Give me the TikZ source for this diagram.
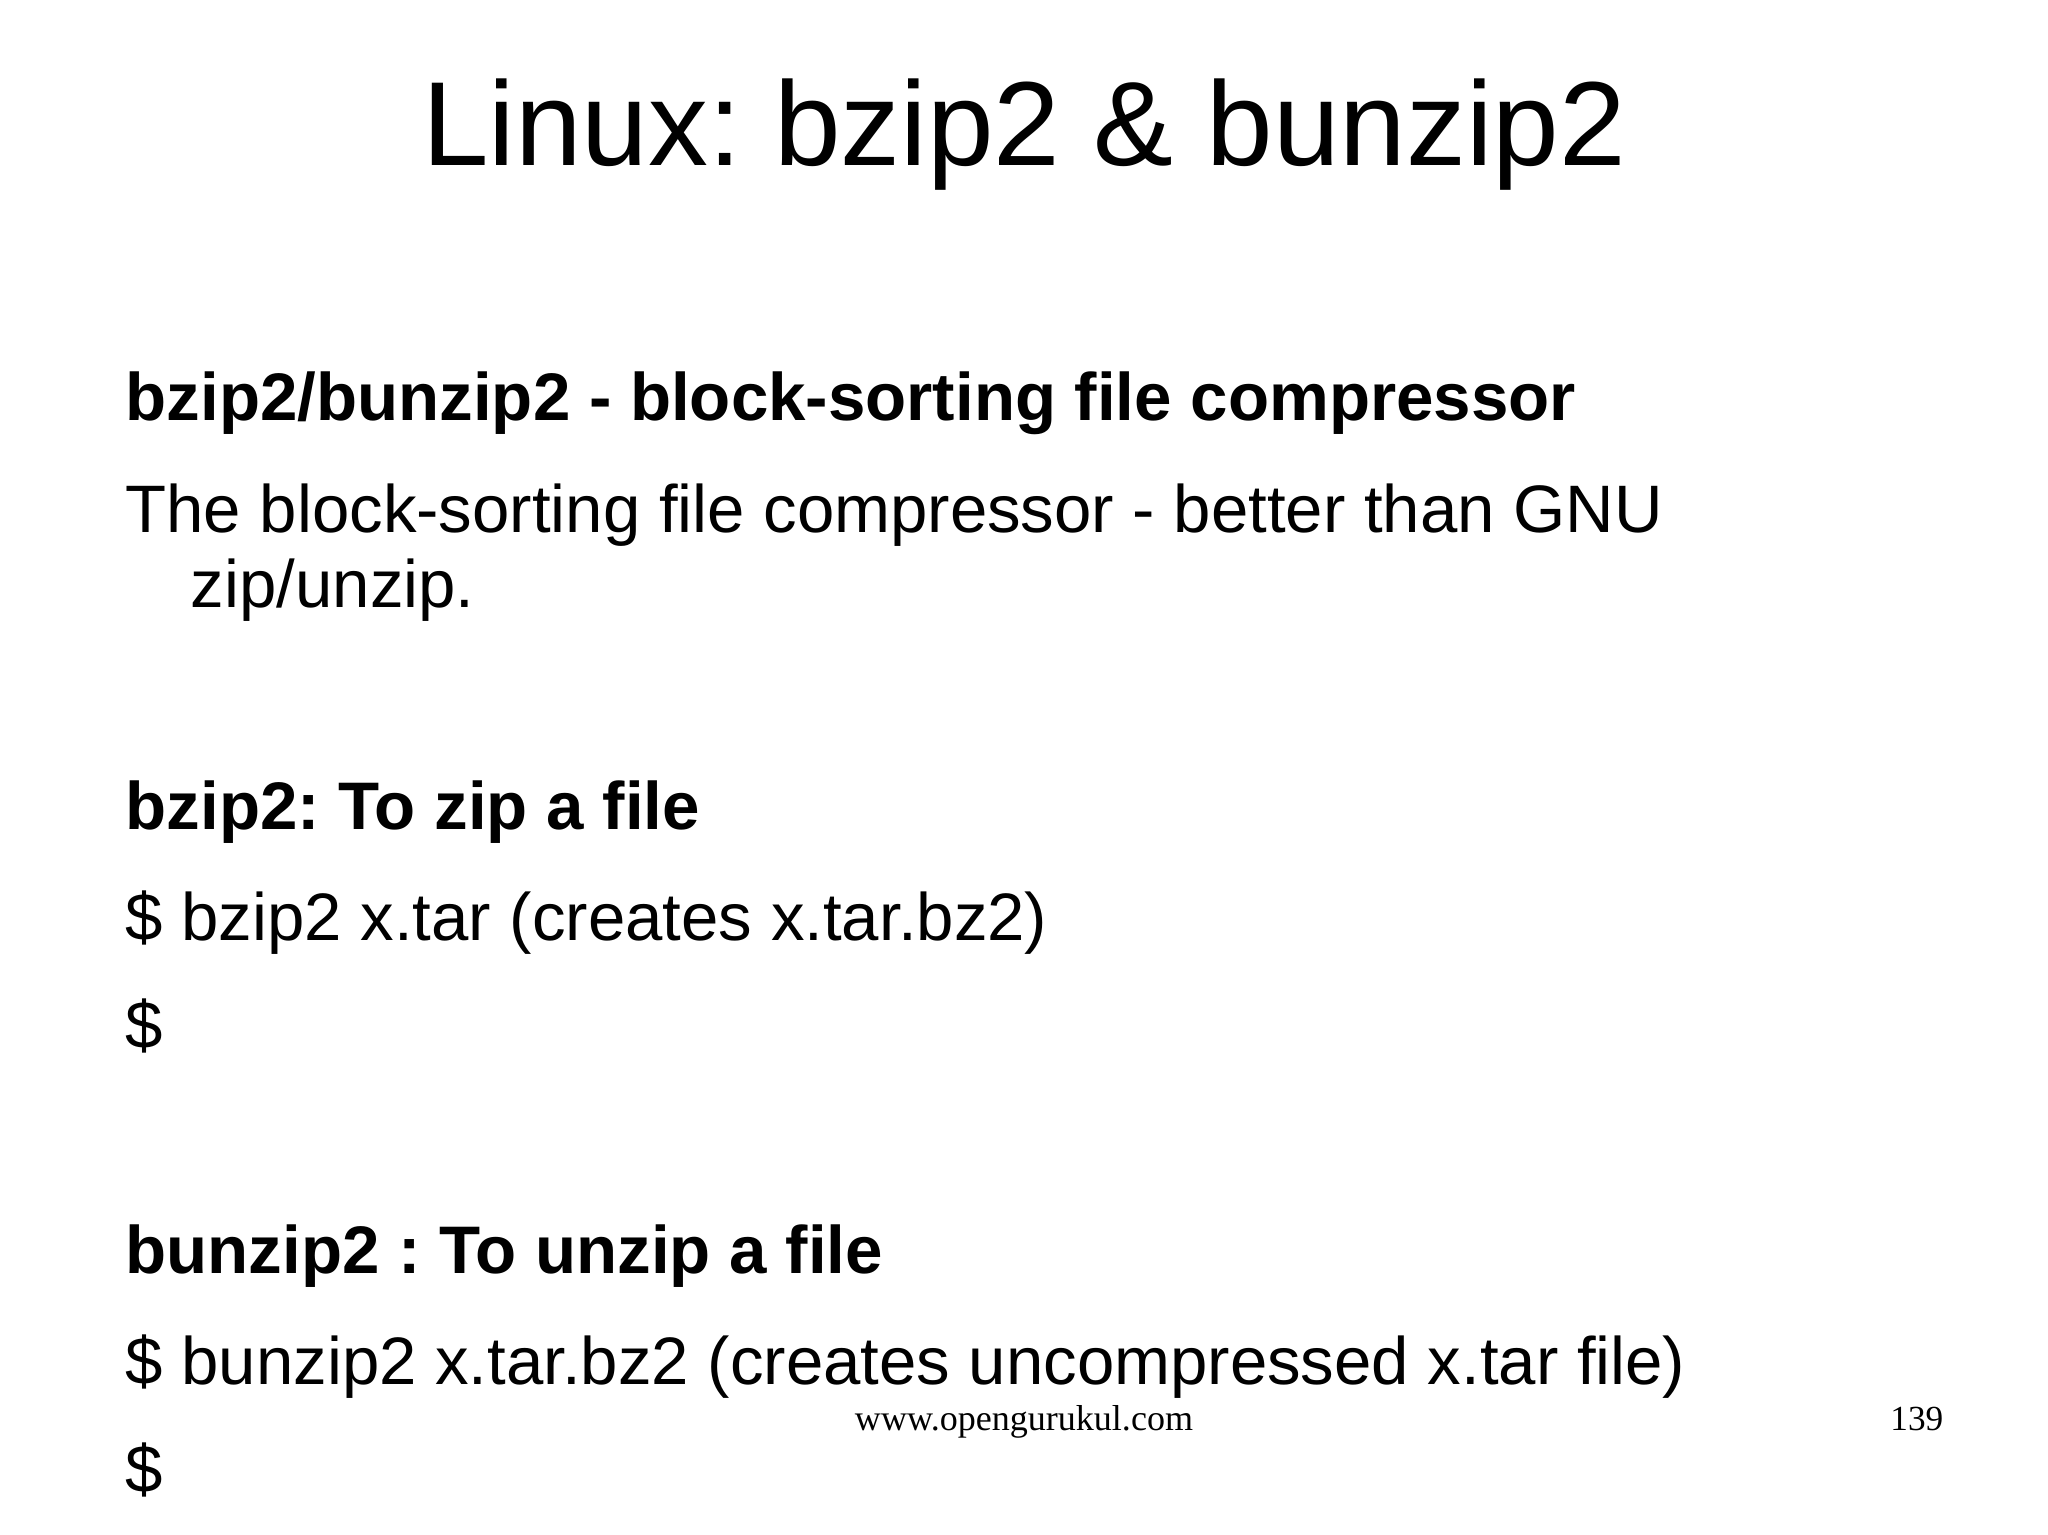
\documentclass[tikz,border=0pt]{standalone}
\usepackage{fontspec}
\setmainfont{Liberation Sans}
\newfontfamily\serifft{Liberation Serif}
\frenchspacing
\begin{document}
\begin{tikzpicture}[x=1pt,y=-1pt,
  txt/.style={anchor=base west,inner sep=0pt,font=\fontsize{51.4}{56}\selectfont},
  bld/.style={txt,font=\fontsize{51.5}{56}\selectfont\bfseries}]
\useasboundingbox (0,0) rectangle (1568,1175.2);
\node[anchor=base,inner sep=0pt,font=\fontsize{91.6}{100}\selectfont] (title) at (784,127) {Linux: bzip2 \& bunzip2};
\node[bld] (h1) at (96,322) {bzip2/bunzip2 - block-sorting file compressor};
\node[txt] (l1) at (96,408) {The block-sorting file compressor - better than GNU};
\node[txt] (l2) at (146,465) {zip/unzip.};
\node[bld] (h2) at (96,635) {bzip2: To zip a file};
\node[txt] (l3) at (96,720) {\$ bzip2 x.tar (creates x.tar.bz2)};
\node[txt] (l4) at (96,803) {\$};
\node[bld] (h3) at (96,975) {bunzip2 : To unzip a file};
\node[txt] (l5) at (96,1060) {\$ bunzip2 x.tar.bz2 (creates uncompressed x.tar file)};
\node[txt] (l6) at (96,1143) {\$};
\node[anchor=base,inner sep=0pt,font=\serifft\fontsize{27.6}{30}\selectfont] (foot) at (784,1095) {www.opengurukul.com};
\node[anchor=base east,inner sep=0pt,font=\serifft\fontsize{27}{30}\selectfont] (pg) at (1488,1095) {139};
\end{tikzpicture}
\end{document}
